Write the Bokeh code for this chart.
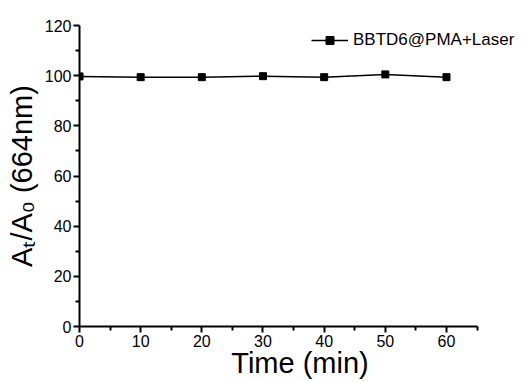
from bokeh.plotting import figure
from bokeh.models import Range1d, FixedTicker, Legend, LegendItem, ColumnDataSource
from bokeh.embed import file_html
from bokeh.resources import INLINE

time_min = [0, 10, 20, 30, 40, 50, 60]
ratio = [99.7, 99.4, 99.4, 99.8, 99.4, 100.5, 99.4]
series_name = "BBTD6@PMA+Laser"
x_major = [0, 10, 20, 30, 40, 50, 60]
x_minor = [5, 15, 25, 35, 45, 55, 65]
y_major = [0, 20, 40, 60, 80, 100, 120]
y_minor = [10, 30, 50, 70, 90, 110]

p = figure(width=530, height=382, output_backend="svg", toolbar_location=None,
           x_range=Range1d(0, 72.1), y_range=Range1d(0, 120),
           min_border_left=79, min_border_right=10, min_border_top=25, min_border_bottom=56)
p.outline_line_color = None
p.xgrid.visible = False
p.ygrid.visible = False
p.background_fill_color = "white"
p.border_fill_color = "white"

ln = p.line(time_min, ratio, line_color="black", line_width=1.5)
sq = p.scatter(time_min, ratio, marker="square", size=7, fill_color="black", line_color="black")

# legend-only glyphs (a single NaN point, not drawn) so the legend marker is smaller, as in the reference
nan_src = ColumnDataSource(data=dict(x=[float("nan")], y=[float("nan")]))
lg_ln = p.line("x", "y", source=nan_src, line_color="black", line_width=1.5)
lg_sq = p.scatter("x", "y", source=nan_src, marker="square", size=5, fill_color="black", line_color="black")

for ax in (p.xaxis[0], p.yaxis[0]):
    ax.axis_line_width = 2
    ax.axis_line_color = "black"
    ax.major_tick_line_width = 2
    ax.minor_tick_line_width = 2
    ax.major_tick_line_color = "black"
    ax.minor_tick_line_color = "black"
    ax.major_tick_out = 6
    ax.major_tick_in = 0
    ax.minor_tick_out = 4
    ax.minor_tick_in = 0
    ax.major_label_text_font = "Liberation Sans"
    ax.major_label_text_font_size = "16px"
    ax.major_label_text_color = "black"
    ax.axis_label_text_font = "Liberation Sans"
    ax.axis_label_text_font_size = "29px"
    ax.axis_label_text_font_style = "normal"
    ax.axis_label_text_color = "black"

p.xaxis[0].bounds = (0, 65)
p.xaxis[0].ticker = FixedTicker(ticks=x_major, minor_ticks=x_minor)
p.yaxis[0].ticker = FixedTicker(ticks=y_major, minor_ticks=y_minor)
p.xaxis[0].axis_label = "Time (min)"
p.yaxis[0].axis_label = "A\u209C/A\u2080 (664nm)"
p.xaxis[0].major_label_standoff = 2
p.xaxis[0].axis_label_standoff = -3
p.yaxis[0].major_label_standoff = 2
p.yaxis[0].axis_label_standoff = 4

legend = Legend(items=[LegendItem(label=series_name, renderers=[lg_ln, lg_sq])],
                location=(232, 276), border_line_alpha=0, background_fill_alpha=0,
                padding=0, margin=0, glyph_width=37, label_standoff=5,
                label_text_font="Liberation Sans", label_text_font_size="17px",
                label_text_color="black")
p.add_layout(legend, "center")

open("out.html", "w").write(file_html(p, INLINE))
